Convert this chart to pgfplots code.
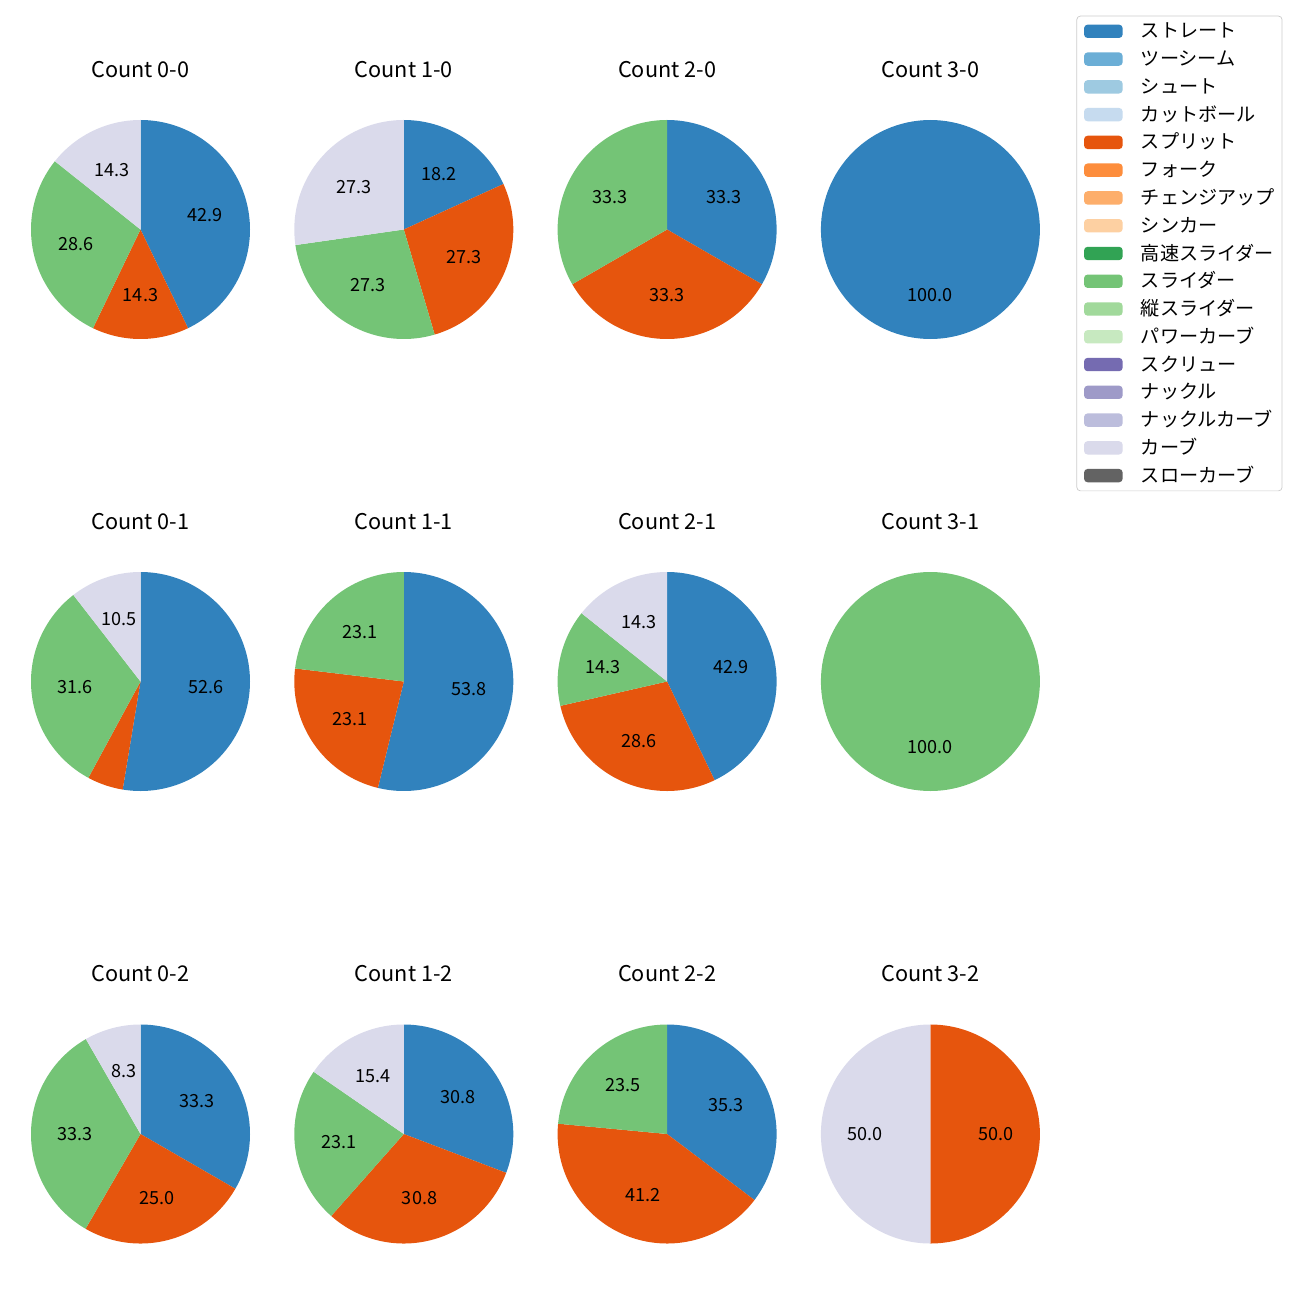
\documentclass[border=0pt]{standalone}
\usepackage{pgfplots}
\pgfplotsset{compat=1.18}
\usepackage{fontspec}
\setmainfont{Noto Sans CJK JP}

\definecolor{c01}{HTML}{3182BD}
\definecolor{c02}{HTML}{6BAED6}
\definecolor{c03}{HTML}{9ECAE1}
\definecolor{c04}{HTML}{C6DBEF}
\definecolor{c05}{HTML}{E6550D}
\definecolor{c06}{HTML}{FD8D3C}
\definecolor{c07}{HTML}{FDAE6B}
\definecolor{c08}{HTML}{FDD0A2}
\definecolor{c09}{HTML}{31A354}
\definecolor{c10}{HTML}{74C476}
\definecolor{c11}{HTML}{A1D99B}
\definecolor{c12}{HTML}{C7E9C0}
\definecolor{c13}{HTML}{756BB1}
\definecolor{c14}{HTML}{9E9AC8}
\definecolor{c15}{HTML}{BCBDDC}
\definecolor{c16}{HTML}{DADAEB}
\definecolor{c17}{HTML}{636363}

\newcommand\px{0.553846pt}

% \startpie{total}: percentages are normalised by their total
\newcommand\startpie[1]{\gdef\cum{0}\gdef\tot{#1}}
\newcommand\slice[2]{%
  \pgfmathsetmacro\sa{90-(\cum+#2)/\tot*360}%
  \pgfmathsetmacro\sb{90-\cum/\tot*360}%
  \pgfmathsetmacro\sm{90-(\cum+#2/2)/\tot*360}%
  \pgfmathsetmacro\lx{0.6*cos(\sm)}%
  \pgfmathsetmacro\ly{0.6*sin(\sm)}%
  \edef\temp{\noexpand\addplot[forget plot,fill=#1,draw=none,domain=\sa:\sb,samples=121,variable=\noexpand\t] ({cos(\noexpand\t)},{sin(\noexpand\t)}) -- (axis cs:0,0) -- cycle;}%
  \temp
  \pgfmathtruncatemacro\showlab{#2>7 ? 1 : 0}%
  \ifnum\showlab=1
    \edef\temp{\noexpand\node[font=\noexpand\fontsize{10}{12}\noexpand\selectfont,inner sep=0pt,text depth=0pt] at (axis cs:\lx,\ly) {#2};}%
    \temp
  \fi
  \pgfmathsetmacro\newcum{\cum+#2}%
  \global\let\cum\newcum
}

\pgfplotsset{pie/.style={hide axis, scale only axis, x=60.646pt, y=60.646pt,
  xmin=-1,xmax=1,ymin=-1,ymax=1, clip=false, anchor=center,
  title style={at={(0.5,1)},anchor=base,yshift=17.7pt,font=\fontsize{12}{14}\selectfont}}}

\begin{document}
\begin{tikzpicture}
\path[use as bounding box] (0,0) rectangle (1300*\px,-1300*\px);

% Row 1
\begin{axis}[pie, at={(140.5*\px,-229.5*\px)}, title={Count 0-0}]
\startpie{100.1}
\slice{c01}{42.9}\slice{c05}{14.3}\slice{c10}{28.6}\slice{c16}{14.3}
\end{axis}
\begin{axis}[pie, at={(403.8*\px,-229.5*\px)}, title={Count 1-0}]
\startpie{100.1}
\slice{c01}{18.2}\slice{c05}{27.3}\slice{c10}{27.3}\slice{c16}{27.3}
\end{axis}
\begin{axis}[pie, at={(667.1*\px,-229.5*\px)}, title={Count 2-0}]
\startpie{99.9}
\slice{c01}{33.3}\slice{c05}{33.3}\slice{c10}{33.3}
\end{axis}
\begin{axis}[pie, at={(930.4*\px,-229.5*\px)}, title={Count 3-0},
  legend style={at={(2.1075,1.4763)}, anchor=north east, draw=black!20, rounded corners=2pt,
    fill=white, inner xsep=4pt, inner ysep=3.3pt, row sep=5.08pt,
    font=\fontsize{10.6}{12}\selectfont,
    nodes={inner sep=0pt, text height=8.8pt, text depth=1.5pt, anchor=west}},
  legend cell align=left,
  legend image code/.code={\fill[#1,draw=none] (0pt,-3.7pt) rectangle (21.4pt,3.7pt); \path[draw=none,fill=none] (0pt,0pt) -- (31.5pt,0pt);}]
\startpie{100.0}
\slice{c01}{100.0}
\addlegendimage{fill=c01}\addlegendentry{ストレート}
\addlegendimage{fill=c02}\addlegendentry{ツーシーム}
\addlegendimage{fill=c03}\addlegendentry{シュート}
\addlegendimage{fill=c04}\addlegendentry{カットボール}
\addlegendimage{fill=c05}\addlegendentry{スプリット}
\addlegendimage{fill=c06}\addlegendentry{フォーク}
\addlegendimage{fill=c07}\addlegendentry{チェンジアップ}
\addlegendimage{fill=c08}\addlegendentry{シンカー}
\addlegendimage{fill=c09}\addlegendentry{高速スライダー}
\addlegendimage{fill=c10}\addlegendentry{スライダー}
\addlegendimage{fill=c11}\addlegendentry{縦スライダー}
\addlegendimage{fill=c12}\addlegendentry{パワーカーブ}
\addlegendimage{fill=c13}\addlegendentry{スクリュー}
\addlegendimage{fill=c14}\addlegendentry{ナックル}
\addlegendimage{fill=c15}\addlegendentry{ナックルカーブ}
\addlegendimage{fill=c16}\addlegendentry{カーブ}
\addlegendimage{fill=c17}\addlegendentry{スローカーブ}
\end{axis}

% Row 2
\begin{axis}[pie, at={(140.5*\px,-681.5*\px)}, title={Count 0-1}]
\startpie{100.0}
\slice{c01}{52.6}\slice{c05}{5.3}\slice{c10}{31.6}\slice{c16}{10.5}
\end{axis}
\begin{axis}[pie, at={(403.8*\px,-681.5*\px)}, title={Count 1-1}]
\startpie{100.0}
\slice{c01}{53.8}\slice{c05}{23.1}\slice{c10}{23.1}
\end{axis}
\begin{axis}[pie, at={(667.1*\px,-681.5*\px)}, title={Count 2-1}]
\startpie{100.1}
\slice{c01}{42.9}\slice{c05}{28.6}\slice{c10}{14.3}\slice{c16}{14.3}
\end{axis}
\begin{axis}[pie, at={(930.4*\px,-681.5*\px)}, title={Count 3-1}]
\startpie{100.0}
\slice{c10}{100.0}
\end{axis}

% Row 3
\begin{axis}[pie, at={(140.5*\px,-1134*\px)}, title={Count 0-2}]
\startpie{99.9}
\slice{c01}{33.3}\slice{c05}{25.0}\slice{c10}{33.3}\slice{c16}{8.3}
\end{axis}
\begin{axis}[pie, at={(403.8*\px,-1134*\px)}, title={Count 1-2}]
\startpie{100.1}
\slice{c01}{30.8}\slice{c05}{30.8}\slice{c10}{23.1}\slice{c16}{15.4}
\end{axis}
\begin{axis}[pie, at={(667.1*\px,-1134*\px)}, title={Count 2-2}]
\startpie{100.0}
\slice{c01}{35.3}\slice{c05}{41.2}\slice{c10}{23.5}
\end{axis}
\begin{axis}[pie, at={(930.4*\px,-1134*\px)}, title={Count 3-2}]
\startpie{100.0}
\slice{c05}{50.0}\slice{c16}{50.0}
\end{axis}
\end{tikzpicture}
\end{document}
